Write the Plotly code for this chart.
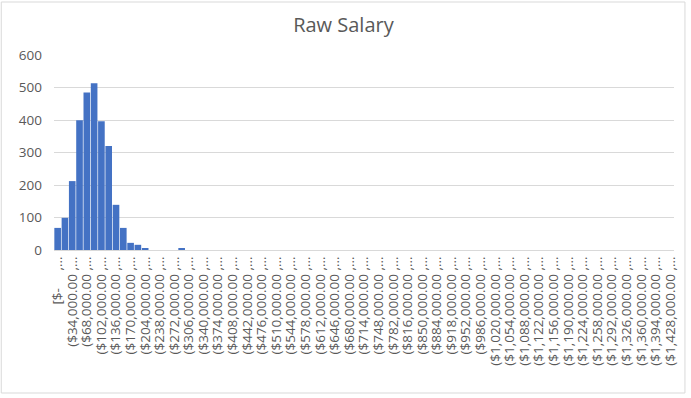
import plotly.graph_objects as go

bin_width = 17000
n_bins = 85
counts = [68, 99, 212, 399, 485, 513, 396, 320, 139, 68, 22, 16, 4, 0, 0, 0, 0, 4] + [0] * 67

def money(v):
    return "$-" if v == 0 else "${:,.2f}".format(v)

categories = []
tick_labels = []
for i in range(n_bins):
    lo, hi = i * bin_width, (i + 1) * bin_width
    open_br = "[" if i == 0 else "("
    categories.append(f"{open_br}{money(lo)}, {money(hi)}]")
    if i == 0:
        tick_labels.append("[$-     ,...")
    else:
        tick_labels.append(f"({money(lo)} ,...")

tick_idx = list(range(0, n_bins, 2))

fig = go.Figure(go.Bar(
    x=categories, y=counts, marker_color="#4472C4", marker_line_width=0,
))

L, R = 54, 677
W, H = 691, 398
T, B = 55, 250

def px(x):
    return (x - L) / (R - L)

def py(y):
    return (B - y) / (B - T)

fig.update_layout(
    width=W, height=H,
    margin=dict(l=L, r=W - R, t=T, b=H - B, pad=0),
    paper_bgcolor="white", plot_bgcolor="white",
    bargap=0.09,
    showlegend=False,
    title=dict(text="Raw Salary", x=0.497, xanchor="center", y=1 - 25 / H, yanchor="middle",
               font=dict(family="Open Sans", size=20, color="#595959")),
    xaxis=dict(
        type="category",
        tickmode="array",
        tickvals=[categories[i] for i in tick_idx],
        ticktext=[tick_labels[i] for i in tick_idx],
        tickangle=-90,
        tickfont=dict(family="Open Sans", size=13.5, color="#595959"),
        showgrid=False, showline=True, linecolor="#d9d9d9", linewidth=1,
        ticks="", range=[-0.5, n_bins - 0.5], fixedrange=True,
    ),
    yaxis=dict(
        range=[0, 600], tickvals=[0, 100, 200, 300, 400, 500, 600],
        tickfont=dict(family="Open Sans", size=13.5, color="#595959"),
        showgrid=True, gridcolor="#d9d9d9", gridwidth=1,
        zeroline=False, showline=False, ticks="", ticklabelstandoff=11,
    ),
    shapes=[
        dict(type="rect", xref="paper", yref="paper",
             x0=px(1), x1=px(688), y0=py(393), y1=py(2),
             line=dict(color="#d9d9d9", width=1), fillcolor="rgba(0,0,0,0)", layer="below"),
    ],
)

fig.write_html("out.html")
